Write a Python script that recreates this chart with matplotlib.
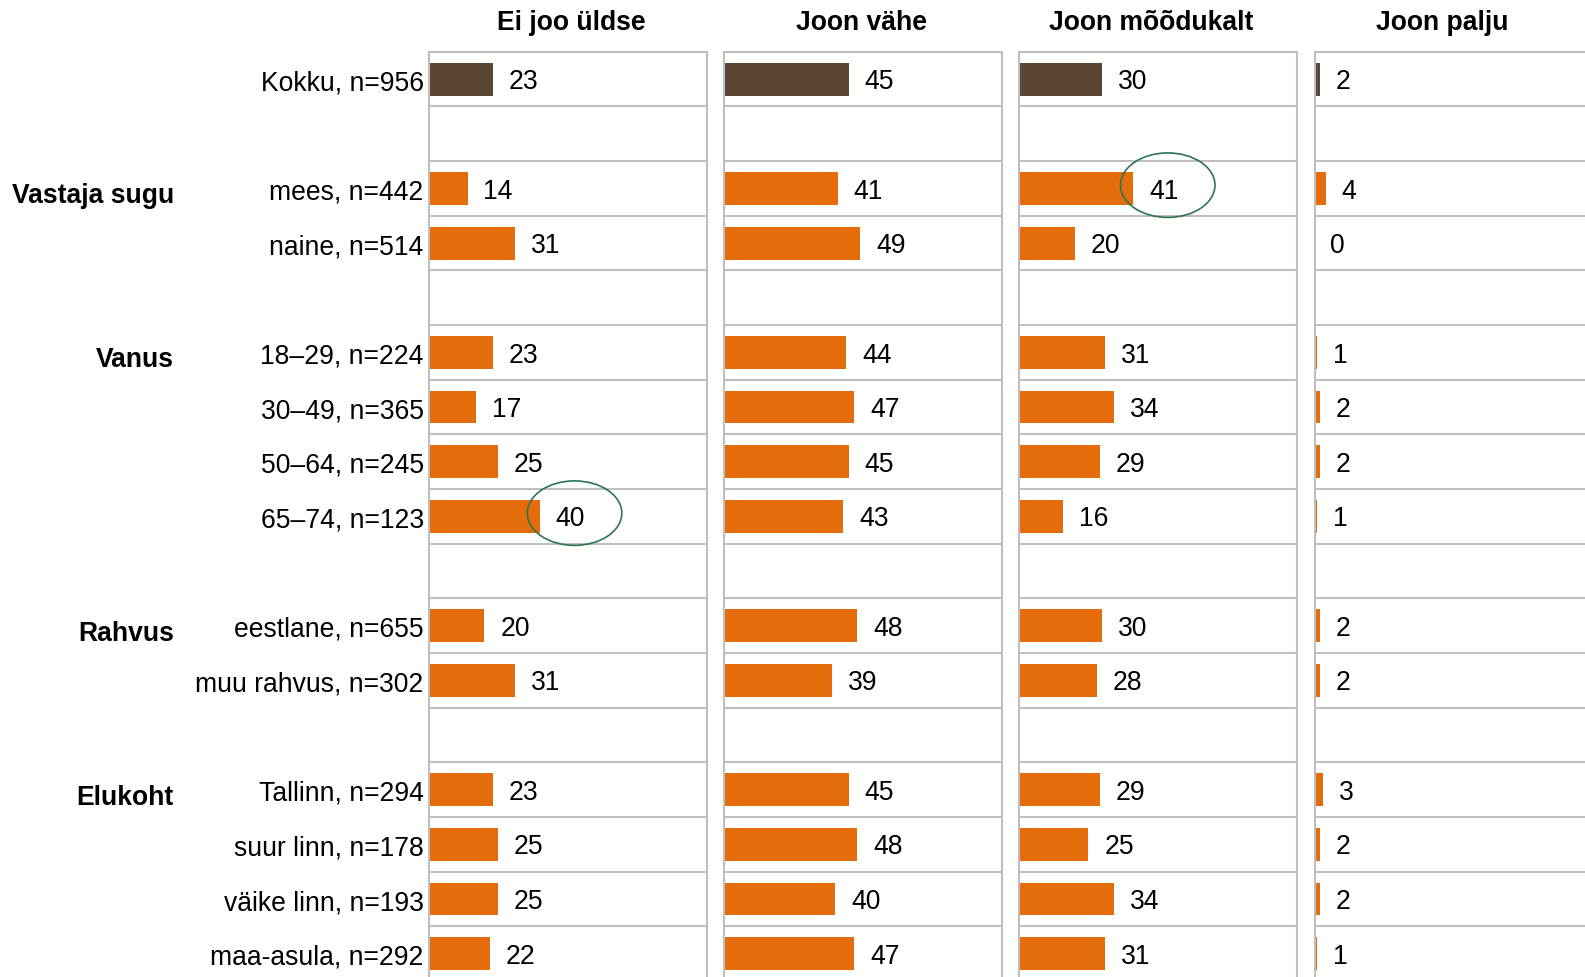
import numpy as np
import matplotlib
matplotlib.use("Agg")
import matplotlib.pyplot as plt
from matplotlib.patches import Ellipse

plt.rcParams['font.family'] = ['Liberation Sans', 'DejaVu Sans']

# --- data ---
categories = ["Kokku, n=956", "", "mees, n=442", "naine, n=514", "",
              "18–29, n=224", "30–49, n=365", "50–64, n=245", "65–74, n=123", "",
              "eestlane, n=655", "muu rahvus, n=302", "",
              "Tallinn, n=294", "suur linn, n=178", "väike linn, n=193", "maa-asula, n=292"]

nan = np.nan
ei_joo = [23, nan, 14, 31, nan, 23, 17, 25, 40, nan, 20, 31, nan, 23, 25, 25, 22]
joon_vahe = [45, nan, 41, 49, nan, 44, 47, 45, 43, nan, 48, 39, nan, 45, 48, 40, 47]
joon_moodukalt = [30, nan, 41, 20, nan, 31, 34, 29, 16, nan, 30, 28, nan, 29, 25, 34, 31]
joon_palju = [2, nan, 4, 0, nan, 1, 2, 2, 1, nan, 2, 2, nan, 3, 2, 2, 1]

panel_titles = ["Ei joo üldse", "Joon vähe", "Joon mõõdukalt", "Joon palju"]
series = [ei_joo, joon_vahe, joon_moodukalt, joon_palju]

groups = ["Vastaja sugu", "Vanus", "Rahvus", "Elukoht"]
group_rows = [2, 5, 10, 13]

# circled values: (panel index, row index)
circled = [(0, 8), (2, 2)]

# --- styling ---
W, H = 1585, 978
orange = "#E46C0A"
brown = "#5B4535"
grid = "#BFBFBF"
green = "#2E7550"
fs = 19.1

fig = plt.figure(figsize=(W / 100, H / 100), dpi=100)

n = len(categories)
y = np.arange(n)
panel_left = [428.6, 723.8, 1019.0, 1314.5]
panel_w = 278.0
top_px, row_px = 52.8, 54.66
bottom_px = top_px + row_px * n
title_x = [571, 861, 1151.5, 1442]

axes = []
for k, vals in enumerate(series):
    ax = fig.add_axes([panel_left[k] / W, (H - bottom_px) / H,
                       panel_w / W, (bottom_px - top_px) / H])
    vals = np.array(vals, dtype=float)
    colors = [brown if i == 0 else orange for i in range(n)]
    ax.barh(y, np.nan_to_num(vals), height=0.6, color=colors, edgecolor='none', zorder=2)
    for i, v in enumerate(vals):
        if np.isnan(v):
            continue
        ax.annotate(f"{v:.0f}", (v, i), xytext=(11.5, -1.5), textcoords='offset points',
                    ha='left', va='center', fontsize=fs, color='black')
    ax.set_xlim(0, 100)
    ax.set_ylim(n - 0.5, -0.5)
    for b in np.arange(0.5, n - 1, 1.0):
        ax.axhline(b, color=grid, lw=1.5, zorder=1)
    for s in ['left', 'right', 'top']:
        ax.spines[s].set_color(grid)
        ax.spines[s].set_linewidth(1.5)
    ax.spines['bottom'].set_visible(False)
    ax.set_xticks([])
    if k == 0:
        ax.set_yticks(y)
        ax.set_yticklabels(categories, fontsize=fs)
        ax.tick_params(axis='y', length=0, pad=3.5)
    else:
        ax.set_yticks([])
    fig.text(title_x[k] / W, 1 - 23 / H, panel_titles[k], ha='center', va='center',
             fontsize=fs, fontweight='bold')
    axes.append(ax)

for k, i in circled:
    v = series[k][i]
    axes[k].add_patch(Ellipse((v + 12.5, i - 0.06), 34, 1.18, fill=False,
                              edgecolor=green, lw=1.2, clip_on=False, zorder=3))

for g, r in zip(groups, group_rows):
    ypx = top_px + row_px * (r + 0.5) + 7
    fig.text(174 / W, 1 - ypx / H, g, ha='right', va='center',
             fontsize=fs, fontweight='bold')

fig.savefig("out.png", dpi=100)
